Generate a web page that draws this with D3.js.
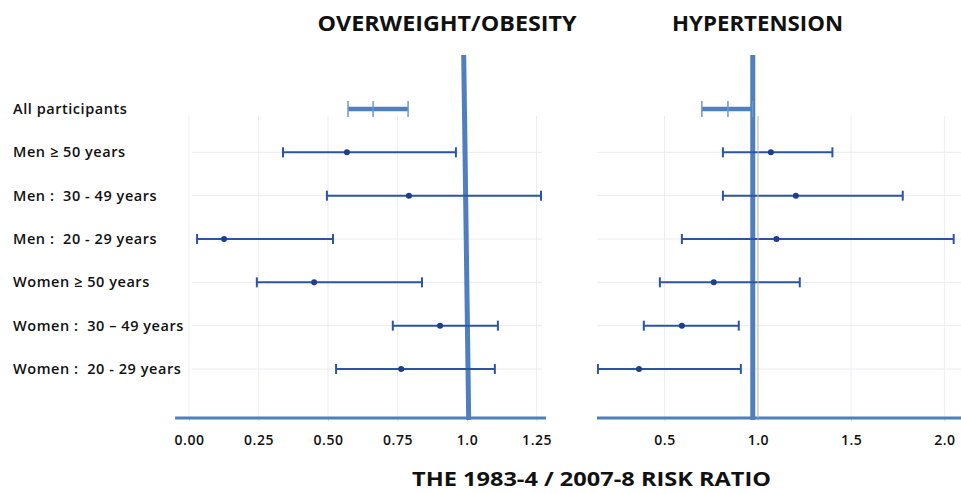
<!DOCTYPE html>
<html>
<head>
<meta charset="utf-8">
<script src="https://cdn.jsdelivr.net/npm/d3@7"></script>
<style>
  body { margin: 0; background: #fff; }
  svg text { font-family: "Open Sans", sans-serif; fill: #111; white-space: pre; }
</style>
</head>
<body>
<svg id="chart" width="961" height="494"></svg>
<script>
// groups, top to bottom
var groups = ['All participants', 'Men \u2265 50 years', 'Men :  30 - 49 years', 'Men :  20 - 29 years',
   'Women \u2265 50 years', 'Women :  30 \u2013 49 years', 'Women :  20 - 29 years'];

// overweight / obesity risk ratios
var obLow  = [0.572, 0.338, 0.496, 0.029, 0.244, 0.733, 0.529];
var obRR   = [0.662, 0.568, 0.791, 0.126, 0.450, 0.903, 0.763];
var obHigh = [0.788, 0.960, 1.266, 0.518, 0.838, 1.111, 1.100];

// hypertension risk ratios
var htLow  = [0.700, 0.813, 0.813, 0.593, 0.475, 0.389, 0.143];
var htRR   = [0.840, 1.070, 1.204, 1.100, 0.764, 0.593, 0.363];
var htHigh = [0.972, 1.400, 1.777, 2.050, 1.225, 0.898, 0.909];

var obTicks = [0, 0.25, 0.5, 0.75, 1.0, 1.25];
var obTickLabels = ['0.00', '0.25', '0.50', '0.75', '1.0', '1.25'];
var htTicks = [0.5, 1.0, 1.5, 2.0];
var htTickLabels = ['0.5', '1.0', '1.5', '2.0'];

var svg = d3.select('#chart');
var barColor = '#2c54a6', dotColor = '#1d3d8f', refColor = '#4f7fbd';

var y = d3.scalePoint().domain(groups).range([109, 369]);
var axisY = 418;

// row labels
svg.selectAll('.rowlab')
   .data(groups)
   .enter()
   .append('text')
   .attr('x', 13)
   .attr('y', function(d){ return y(d) + 5; })
   .attr('font-size', 14.5)
   .attr('font-weight', 600)
   .attr('letter-spacing', 0.55)
   .text(function(d){ return d; });

function panel(opt){
   var x = d3.scaleLinear().domain(opt.domain).range(opt.range);
   var g = svg.append('g');

   // light grid
   g.selectAll('.vgrid')
      .data(opt.ticks)
      .enter()
      .append('line')
      .attr('x1', function(d){ return x(d); })
      .attr('x2', function(d){ return x(d); })
      .attr('y1', 116)
      .attr('y2', axisY)
      .attr('stroke', opt.gridColor)
      .attr('stroke-width', 1);
   g.selectAll('.hgrid')
      .data(groups.slice(1))
      .enter()
      .append('line')
      .attr('x1', opt.gridX[0])
      .attr('x2', opt.gridX[1])
      .attr('y1', function(d){ return y(d); })
      .attr('y2', function(d){ return y(d); })
      .attr('stroke', '#ececf0')
      .attr('stroke-width', 1);

   // axis
   var axis = d3.axisBottom(x)
      .tickValues(opt.ticks)
      .tickFormat(function(d, i){ return opt.tickLabels[i]; })
      .tickSize(3)
      .tickPadding(14);
   var ax = g.append('g')
      .attr('transform', 'translate(0,' + axisY + ')')
      .call(axis);
   ax.select('.domain').remove();
   ax.selectAll('.tick line').attr('stroke', '#d8d8d8');
   ax.selectAll('.tick text')
      .attr('font-size', 14)
      .attr('font-weight', 600)
      .attr('letter-spacing', 0.5)
      .attr('fill', '#111')
      .style('font-family', '"Open Sans", sans-serif');
   g.append('line')
      .attr('x1', x(opt.domain[0]))
      .attr('x2', x(opt.domain[1]))
      .attr('y1', axisY)
      .attr('y2', axisY)
      .attr('stroke', refColor)
      .attr('stroke-width', 3);

   // reference line
   g.append('line')
      .attr('x1', x(opt.refTop))
      .attr('x2', x(opt.refBottom))
      .attr('y1', 55)
      .attr('y2', axisY + 2)
      .attr('stroke', refColor)
      .attr('stroke-width', 5);

   // error bars
   var rows = groups.map(function(gname, i){
      return { name: gname, lo: opt.lo[i], rr: opt.rr[i], hi: opt.hi[i], first: i === 0 };
   });
   var bars = g.selectAll('.bar')
      .data(rows)
      .enter()
      .append('g');
   bars.append('line')
      .attr('x1', function(d){ return x(d.lo); })
      .attr('x2', function(d){ return x(d.hi); })
      .attr('y1', function(d){ return y(d.name); })
      .attr('y2', function(d){ return y(d.name); })
      .attr('stroke', function(d){ return d.first ? refColor : barColor; })
      .attr('stroke-width', function(d){ return d.first ? 4.5 : 2; });
   bars.selectAll('.cap')
      .data(function(d){
         var c = [{ v: d.lo, d: d }, { v: d.hi, d: d }];
         if (d.first) c.push({ v: d.rr, d: d });
         return c;
      })
      .enter()
      .append('line')
      .attr('x1', function(c){ return x(c.v); })
      .attr('x2', function(c){ return x(c.v); })
      .attr('y1', function(c){ return y(c.d.name) - (c.d.first ? 8 : 5); })
      .attr('y2', function(c){ return y(c.d.name) + (c.d.first ? 8 : 5); })
      .attr('stroke', function(c){ return c.d.first ? '#6f97cc' : barColor; })
      .attr('stroke-width', function(c){ return c.d.first ? 1.5 : 2; });
   bars.filter(function(d){ return !d.first; })
      .append('circle')
      .attr('cx', function(d){ return x(d.rr); })
      .attr('cy', function(d){ return y(d.name); })
      .attr('r', 3)
      .attr('fill', dotColor);

   // panel title
   svg.append('text')
      .attr('x', opt.titleX - opt.titleW / 2)
      .attr('y', 31)
      .attr('font-size', 21)
      .attr('font-weight', 700)
      .attr('textLength', opt.titleW)
      .attr('lengthAdjust', 'spacingAndGlyphs')
      .text(opt.title);
}

panel({
   title: 'OVERWEIGHT/OBESITY', titleX: 447, titleW: 259,
   domain: [-0.05, 1.284], range: [175.1, 546],
   ticks: obTicks, tickLabels: obTickLabels,
   gridX: [192, 542], gridColor: '#ededf2',
   lo: obLow, rr: obRR, hi: obHigh,
   refTop: 0.988, refBottom: 1.006
});

panel({
   title: 'HYPERTENSION', titleX: 757.5, titleW: 171,
   domain: [0.138, 2.1], range: [597, 963],
   ticks: htTicks, tickLabels: htTickLabels,
   gridX: [597, 961], gridColor: '#ededf2',
   lo: htLow, rr: htRR, hi: htHigh,
   refTop: 0.973, refBottom: 0.973
});

// thin grey line at 1.0 next to the hypertension reference line
svg.append('line')
   .attr('x1', 758).attr('x2', 758)
   .attr('y1', 116).attr('y2', axisY)
   .attr('stroke', '#b9b9bf').attr('stroke-width', 1);

svg.append('text')
   .attr('x', 412)
   .attr('y', 486)
   .attr('font-size', 20)
   .attr('font-weight', 700)
   .attr('textLength', 359)
   .attr('lengthAdjust', 'spacingAndGlyphs')
   .text('THE 1983-4 / 2007-8 RISK RATIO');
</script>
</body>
</html>
